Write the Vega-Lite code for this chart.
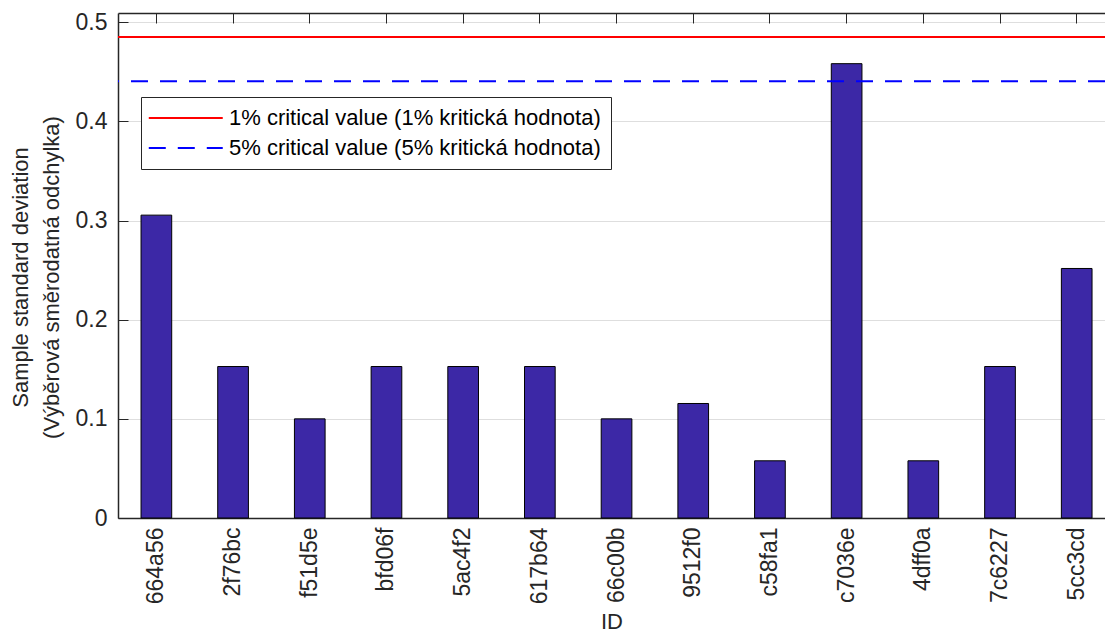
{
  "$schema": "https://vega.github.io/schema/vega-lite/v6.json",
  "autosize": {"type": "none"},
  "padding": {"left": 118, "top": 13, "right": 0, "bottom": 119},
  "width": 987,
  "height": 505,
  "background": "white",
  "config": {
    "font": "Liberation Sans",
    "view": {"stroke": null},
    "axis": {
      "labelFont": "Liberation Sans",
      "titleFont": "Liberation Sans",
      "labelColor": "#262626",
      "titleColor": "#262626",
      "domainColor": "#262626",
      "tickColor": "#262626",
      "titleFontWeight": "normal",
      "gridColor": "#dedede",
      "gridWidth": 1
    }
  },
  "layer": [
    {
      "data": {
        "values": [
          {"ID": "664a56", "sd": 0.3055},
          {"ID": "2f76bc", "sd": 0.1528},
          {"ID": "f51d5e", "sd": 0.1},
          {"ID": "bfd06f", "sd": 0.1528},
          {"ID": "5ac4f2", "sd": 0.1528},
          {"ID": "617b64", "sd": 0.1528},
          {"ID": "66c00b", "sd": 0.1},
          {"ID": "9512f0", "sd": 0.1155},
          {"ID": "c58fa1", "sd": 0.0577},
          {"ID": "c7036e", "sd": 0.4583},
          {"ID": "4dff0a", "sd": 0.0577},
          {"ID": "7c6227", "sd": 0.1528},
          {"ID": "5cc3cd", "sd": 0.2517}
        ]
      },
      "mark": {"type": "bar", "color": "#3c28a6", "stroke": "#000000", "strokeWidth": 1},
      "encoding": {
        "x": {
          "field": "ID",
          "type": "nominal",
          "sort": null,
          "scale": {"paddingInner": 0.6, "paddingOuter": 0.2347, "align": 0.64},
          "axis": {
            "orient": "bottom",
            "title": "ID",
            "titleFontSize": 22,
            "titlePadding": 8,
            "labelAngle": 270,
            "labelFontSize": 23,
            "labelPadding": 19,
            "tickSize": -10,
            "domainWidth": 1.5
          }
        },
        "y": {
          "field": "sd",
          "type": "quantitative",
          "scale": {"domain": [0, 0.5094], "nice": false, "zero": true},
          "axis": {
            "title": ["Sample standard deviation", "(Výběrová směrodatná odchylka)"],
            "titleFontSize": 22,
            "titleLineHeight": 31,
            "titleX": -91,
            "titleY": 264,
            "titleBaseline": "alphabetic",
            "titleAlign": "center",
            "titleAngle": 270,
            "values": [0, 0.1, 0.2, 0.3, 0.4, 0.5],
            "format": ".1~f",
            "labelFontSize": 23,
            "labelPadding": 21,
            "tickSize": -10,
            "grid": true,
            "domainWidth": 1.5
          }
        }
      }
    },
    {
      "data": {"values": [{"ID": "664a56"}]},
      "mark": {"type": "rule", "opacity": 0},
      "encoding": {
        "x": {
          "field": "ID",
          "type": "nominal",
          "sort": null,
          "axis": {
            "orient": "top",
            "labels": false,
            "title": null,
            "tickSize": -10,
            "domainWidth": 1.5
          }
        }
      }
    },
    {
      "data": {
        "values": [
          {"label": "1% critical value (1% kritická hodnota)", "value": 0.4852},
          {"label": "5% critical value (5% kritická hodnota)", "value": 0.4405}
        ]
      },
      "mark": {"type": "rule", "strokeWidth": 2},
      "encoding": {
        "y": {"field": "value", "type": "quantitative"},
        "color": {
          "field": "label",
          "type": "nominal",
          "scale": {
            "domain": ["1% critical value (1% kritická hodnota)", "5% critical value (5% kritická hodnota)"],
            "range": ["#ff0000", "#0000ff"]
          },
          "legend": {
            "title": null,
            "orient": "none",
            "legendX": 23,
            "legendY": 84,
            "symbolType": "M-1.43,0H6.57",
            "symbolSize": 342,
            "symbolStrokeWidth": 2,
            "labelFontSize": 22,
            "labelColor": "#000000",
            "labelFont": "Liberation Sans",
            "labelOffset": 56,
            "rowPadding": 8,
            "padding": 10,
            "strokeColor": "#262626",
            "fillColor": "#ffffff",
            "labelLimit": 600
          }
        },
        "strokeDash": {
          "field": "label",
          "type": "nominal",
          "scale": {
            "domain": ["1% critical value (1% kritická hodnota)", "5% critical value (5% kritická hodnota)"],
            "range": [[1, 0], [17, 12]]
          },
          "legend": {
            "title": null,
            "orient": "none",
            "legendX": 23,
            "legendY": 84,
            "symbolType": "M-1.43,0H6.57",
            "symbolSize": 342,
            "symbolStrokeWidth": 2,
            "labelFontSize": 22,
            "labelColor": "#000000",
            "labelFont": "Liberation Sans",
            "labelOffset": 56,
            "rowPadding": 8,
            "padding": 10,
            "strokeColor": "#262626",
            "fillColor": "#ffffff",
            "labelLimit": 600
          }
        }
      }
    }
  ]
}
